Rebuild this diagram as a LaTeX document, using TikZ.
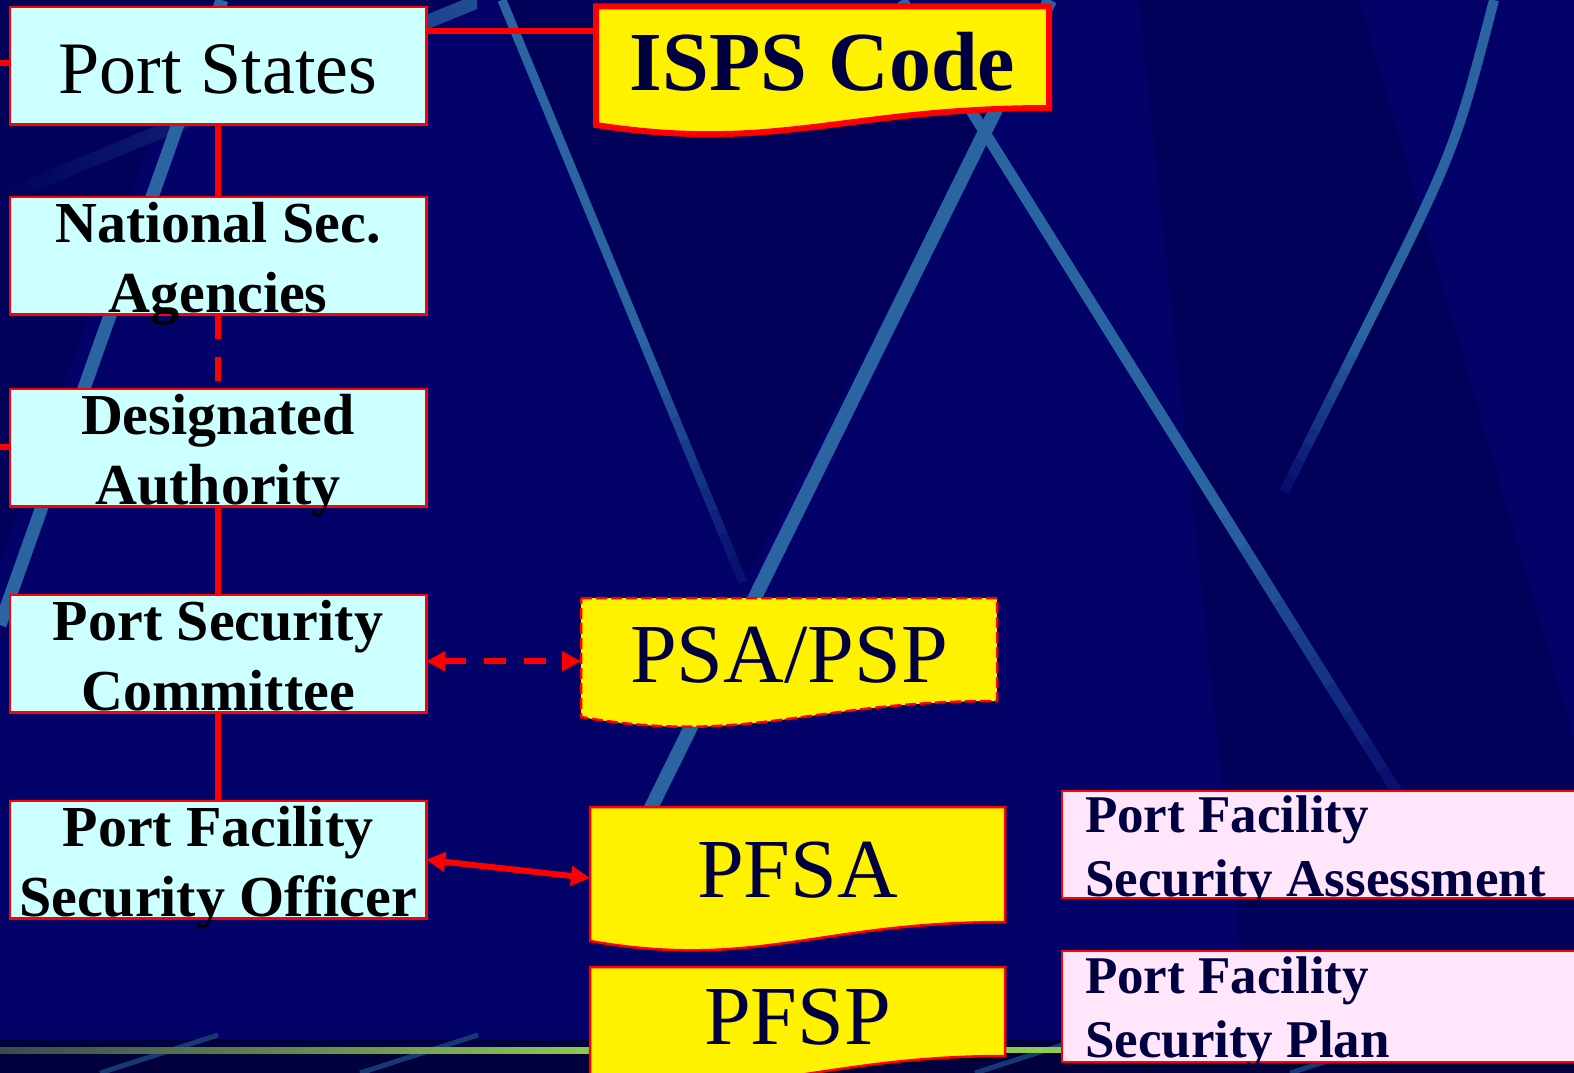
\documentclass[tikz,border=0pt]{standalone}
\usepackage{fontspec}
\setmainfont{Liberation Serif}
\usetikzlibrary{arrows.meta,positioning,calc}

\definecolor{slidebg}{HTML}{020268}
\definecolor{slidedark}{HTML}{01015A}
\definecolor{slidedeep}{HTML}{00003C}
\definecolor{stripeblue}{HTML}{2A65A2}
\definecolor{boxcyan}{HTML}{CCFFFF}
\definecolor{boxpink}{HTML}{FFE6FA}
\definecolor{inknavy}{HTML}{000040}
\definecolor{lime}{HTML}{8FCB50}
\definecolor{oldlime}{HTML}{3B4A4C}

\begin{document}
\begin{tikzpicture}[x=1pt,y=-1pt,>={Triangle[length=19pt,width=19pt]}]
  \tikzstyle{org}=[draw=red,line width=2.5pt,fill=boxcyan,inner sep=0pt,outer sep=0pt,
                   text width=416.5pt,minimum height=117.5pt,align=flush center,
                   font=\bfseries\fontsize{58}{70}\selectfont,
                   text height=45pt,text depth=72.5pt]
  \tikzstyle{doc}=[fill=yellow,inner sep=0pt,outer sep=0pt,text=inknavy,
                   font=\fontsize{84}{90}\selectfont]
  \tikzstyle{note}=[draw=red,line width=2.5pt,fill=boxpink,inner xsep=23pt,inner ysep=0pt,
                    outer sep=0pt,text width=490pt,align=flush left,text=inknavy,
                    font=\bfseries\fontsize{53}{64}\selectfont]
  \tikzstyle{link}=[red,line width=6pt]
  \tikzstyle{streak}=[stripeblue,line width=11pt]

  \useasboundingbox (0,0) rectangle (1574,1073);
  \clip (0,0) rectangle (1574,1073);

  % background
  \fill[slidebg] (0,0) rectangle (1574,1073);
  \fill[slidedark] (502,0) -- (1050,0) -- (742,585) -- cycle;
  \fill[slidedark] (1139,0) -- (1359,0) -- (1574,740) -- (1574,1040) -- (1250,1040) -- cycle;
  \fill[slidedark] (0,0) -- (460,0) -- (0,192) -- cycle;
  \fill[slidedark] (0,208) -- (150,142) -- (0,560) -- cycle;
  \shade[left color=slidedark,right color=stripeblue!75!slidebg]
    (0,190) -- (477,-6) -- (477,9) -- (0,205) -- cycle;
  \draw[streak,line width=13pt] (222,0) -- (0,625);
  \draw[streak,line width=14pt] (1050,0) -- (640,830);
  \draw[streak,line width=10pt] (1494,0) .. controls (1455,150) .. (1360,340);
  % streaks that die out towards their lower end
  \foreach \ax/\ay/\bx/\by/\w/\f in {502/0/742/580/9/0.6,
                                      902/0/1400/797/11/0.65,
                                      1360/340/1285/490/10/0}{
    \draw[streak,line width=\w pt] (\ax,\ay) -- ($(\ax,\ay)!\f!(\bx,\by)$);
    \foreach \k in {0,...,9}{
      \pgfmathsetmacro\fa{\f+(1-\f)*\k/10}
      \pgfmathsetmacro\fb{\f+(1-\f)*(\k+1.1)/10}
      \pgfmathtruncatemacro\mix{95-9*\k}
      \draw[stripeblue!\mix!slidebg,line width=\w pt]
        ($(\ax,\ay)!\fa!(\bx,\by)$) -- ($(\ax,\ay)!\fb!(\bx,\by)$);
    }
  }
  \fill[slidedeep] (0,1039) rectangle (1574,1073);
  \foreach \sx in {100,360,975,1290}
    \draw[stripeblue!55!slidedeep,line width=5pt] (\sx,1073) -- ++(118,-38);
  \shade[left color=oldlime,right color=lime] (0,1047) rectangle (600,1053);
  \fill[lime] (600,1047) rectangle (1574,1053);

  % left column
  \node[org,font=\fontsize{74}{80}\selectfont,text height=86pt,text depth=31.5pt]
        (ps) at (218,65.75) {Port States};
  \node[org] (nsa)  [below=72.5pt of ps]  {National Sec.\\Agencies};
  \node[org] (da)   [below=74.5pt of nsa] {Designated\\Authority};
  \node[org] (psc)  [below=88.5pt of da]  {Port Security\\Committee};
  \node[org] (pfso) [below=88.5pt of psc] {Port Facility\\Security Officer};

  % documents
  \node[doc,font=\bfseries\fontsize{84}{90}\selectfont,minimum width=453pt,
        text height=84.5pt,text depth=17pt] (isps) at (822.5,57.25) {ISPS Code};
  \node[doc,minimum width=416pt,text height=84pt,text depth=19pt]
        (psa) at (789,649.5) {PSA/PSP};
  \node[doc,minimum width=415pt,text height=90pt,text depth=25pt]
        (pfsa) at (797.5,864.5) {PFSA};
  \node[doc,minimum width=415pt,text height=77pt,text depth=12pt]
        (pfsp) [below=45pt of pfsa] {PFSP};

  \fill[yellow] ([yshift=1pt]isps.south east) -- (isps.south east)
    .. controls +(-204,0) and +(181,28) .. ([yshift=-17pt]isps.south west)
    -- ([yshift=1pt]isps.south west) -- cycle;
  \draw[red,line width=6pt] (isps.north west) -- (isps.north east) -- (isps.south east)
    .. controls +(-204,0) and +(181,28) .. ([yshift=-17pt]isps.south west) -- cycle;

  \fill[yellow] ([yshift=1pt]psa.south east) -- (psa.south east)
    .. controls +(-187,0) and +(166,29) .. ([yshift=-16pt]psa.south west)
    -- ([yshift=1pt]psa.south west) -- cycle;
  \draw[red,line width=2.5pt,dash pattern=on 11pt off 4pt]
    (psa.north west) -- (psa.north east) -- (psa.south east)
    .. controls +(-187,0) and +(166,29) .. ([yshift=-16pt]psa.south west) -- cycle;

  \foreach \d in {pfsa,pfsp} {
    \fill[yellow] ([yshift=1pt]\d.south east) -- (\d.south east)
      .. controls +(-187,0) and +(166,29) .. ([yshift=-19pt]\d.south west)
      -- ([yshift=1pt]\d.south west) -- cycle;
    \draw[red,line width=2.5pt] (\d.north west) -- (\d.north east) -- (\d.south east)
      .. controls +(-187,0) and +(166,29) .. ([yshift=-19pt]\d.south west) -- cycle;
  }

  % notes
  \node[note,text height=41pt,text depth=66pt] (pfsanote) at (1330,844.5)
        {Port Facility\\Security Assessment};
  \node[note,text height=42pt,text depth=69pt] (pfspnote) at (1330,1006.5)
        {Port Facility\\Security Plan};

  % connectors
  \coordinate (feedA) at (0,63);
  \coordinate (feedB) at (0,447);
  \coordinate (tap) at ([yshift=-24pt]ps.north east);
  \coordinate (pscout) at ([yshift=-7.5pt]psc.east);
  \draw[link] (feedA) -- (feedA -| ps.west);
  \draw[link] (feedB) -- (feedB -| da.west);
  \draw[link] (tap) -- (tap -| isps.west);
  \draw[link] (ps) -- (nsa);
  \draw[link,dash pattern=on 24pt off 18pt] (nsa) -- (da);
  \draw[link] (da) -- (psc)
              (psc) -- (pfso);
  \draw[link,<->,dash pattern=on 22pt off 18pt] (pscout) -- (pscout -| psa.west);
  \draw[link,<->] (pfso.east) -- ([yshift=-13.5pt]pfsa.west);
\end{tikzpicture}
\end{document}
